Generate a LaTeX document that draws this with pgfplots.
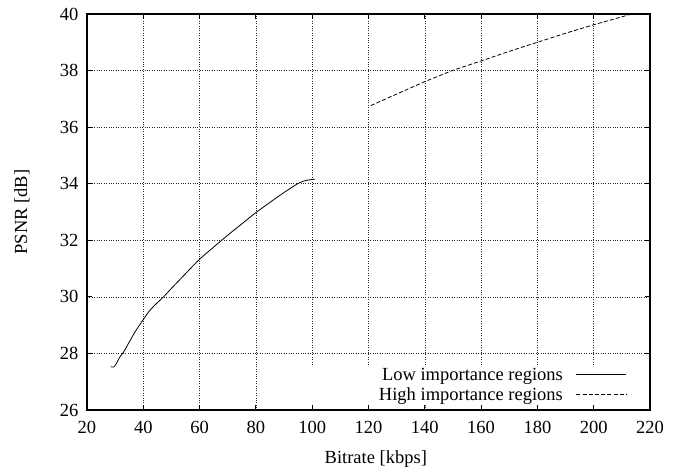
\documentclass[border=0pt]{standalone}
\usepackage{fontspec}
\setmainfont{Liberation Serif}
\usepackage{pgfplots}
\pgfplotsset{compat=1.18}
\begin{document}
\begin{tikzpicture}
\begin{axis}[
  scale only axis, width=563pt, height=396pt,
  xmin=20, xmax=220, ymin=26, ymax=40,
  xtick={20,40,...,220}, ytick={26,28,...,40},
  font=\fontsize{18.5}{22}\selectfont,
  /pgf/number format/assume math mode=true,
  tick label style={font=\fontsize{18.5}{22}\selectfont},
  grid=major, grid style={black!85, dotted, line width=0.6pt},
  axis line style={line width=1.1pt},
  tick style={black, line width=0.8pt},
  major tick length=5pt,
  tick align=inside, tick pos=both,
  xticklabel style={yshift=-8pt},
  yticklabel style={xshift=-5pt},
  xlabel={Bitrate [kbps]}, ylabel={PSNR [dB]},
  xlabel style={at={(axis description cs:0.513,-0.134)}, anchor=base},
  ylabel style={at={(axis description cs:-0.1155,0.5)}, anchor=center},
  legend style={at={(axis description cs:0.959,0.0126)}, anchor=south east,
    draw=none, fill=white, inner xsep=0pt, inner ysep=0pt, row sep=0pt,
    font=\fontsize{18.5}{22}\selectfont,
    nodes={inner ysep=1pt, inner xsep=0pt, text height=15pt, text depth=3pt}},
  legend cell align=right, legend plot pos=right,
  legend image code/.code={\path (0pt,0pt); \draw[#1] (13pt,0pt) -- (63pt,0pt);},
]
\addplot[black, line width=0.8pt, smooth, tension=0.4] coordinates {
(28.5,27.53) (29.5,27.52) (30.5,27.65) (31.5,27.85) (33,28.05) (35,28.4)
(37,28.75) (40,29.2) (42,29.48) (44,29.7) (47,29.98) (50,30.3) (55,30.82)
(60,31.33) (65,31.76) (70,32.18) (75,32.58) (80,32.98) (85,33.34) (90,33.69)
(95,34.01) (98,34.12) (101,34.16)
};
\addlegendentry{\makebox[260pt][r]{Low importance regions}}
\addplot[black, line width=0.8pt, dash pattern=on 4pt off 2.2pt] coordinates {
(120.8,36.76) (130,37.17) (140,37.61) (150,38.01) (160,38.34) (170,38.68)
(180,39.0) (190,39.32) (200,39.62) (210,39.9) (213.5,40.0)
};
\addlegendentry{High importance regions}
\coordinate (bl) at (rel axis cs:0,0);
\coordinate (tr) at (rel axis cs:1,1);
\end{axis}
\pgfresetboundingbox
\useasboundingbox ([xshift=-87pt,yshift=-58pt]bl) rectangle ([xshift=33pt,yshift=14pt]tr);
\end{tikzpicture}
\end{document}
